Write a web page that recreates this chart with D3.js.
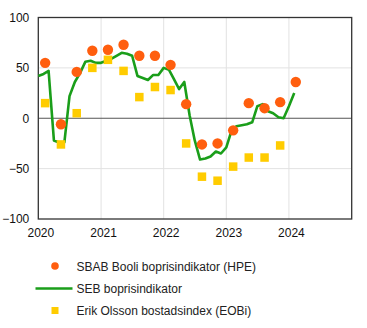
<!DOCTYPE html>
<html>
<head>
<meta charset="utf-8">
<script src="https://cdn.jsdelivr.net/npm/d3@7"></script>
<style>
  html, body { margin: 0; padding: 0; background: #fff; }
  svg { display: block; font-family: "Liberation Sans", Arial, sans-serif; }
</style>
</head>
<body>
<svg id="chart" width="367" height="328"></svg>
<script>
// ---- data ----
const quarterDates = ["2020-02-10","2020-05-12","2020-08-12","2020-11-11",
  "2021-02-10","2021-05-12","2021-08-12","2021-11-11",
  "2022-02-10","2022-05-12","2022-08-12","2022-11-11",
  "2023-02-10","2023-05-12","2023-08-12","2023-11-11",
  "2024-02-10"];
const sbabValues = [55, -6, 46, 67, 68, 73, 62, 62, 53, 14, -26, -25, -12, 15, 10, 16, 36];
const eobiValues = [15, -26, 5, 50, 58, 47, 21, 31, 28, -25, -58, -62, -48, -39, -39, -27];
const sebStart = "2020-01-01";
const sebValues = [42, 44, 47, -22, -24, -24, 22, 36, 45, 56, 57, 55,
  55, 57, 59, 62, 65, 64, 62, 42, 40, 38, 43, 43,
  50, 48, 39, 29, 36, 3, -22, -41, -40, -38, -33, -35,
  -29, -12, -8, -7, -6, -4, 12, 14, 7, 5, 1, 0,
  12, 25];
const yTicks = [100, 50, 0, -50, -100];
const xTickYears = [2020, 2021, 2022, 2023, 2024];
const legendLabels = ["SBAB Booli boprisindikator (HPE)", "SEB boprisindikator", "Erik Olsson bostadsindex (EOBi)"];

// ---- layout ----
const svg = d3.select("#chart");
const m = { left: 38.3, right: 351.7, top: 17.5, bottom: 219 };
const parse = d3.timeParse("%Y-%m-%d");
const x = d3.scaleTime().domain([new Date(2020,0,1), new Date(2025,0,1)]).range([m.left, m.right]);
const y = d3.scaleLinear().domain([-100, 100]).range([m.bottom, m.top]);

const orange = "#FF5E0E", green = "#1A9E1A", yellow = "#FFCC00";

// grid
const g = svg.append("g");
g.selectAll("line.hg").data(yTicks.filter(v => v !== 0 && Math.abs(v) !== 100)).enter().append("line")
  .attr("x1", m.left).attr("x2", m.right).attr("y1", d => y(d)).attr("y2", d => y(d))
  .attr("stroke", "#e2e2e2").attr("stroke-width", 1);
g.selectAll("line.vg").data(xTickYears.slice(1)).enter().append("line")
  .attr("x1", d => x(new Date(d,0,1))).attr("x2", d => x(new Date(d,0,1)))
  .attr("y1", m.top).attr("y2", m.bottom)
  .attr("stroke", "#e2e2e2").attr("stroke-width", 1);

// zero line
g.append("line").attr("x1", m.left).attr("x2", m.right).attr("y1", y(0)).attr("y2", y(0))
  .attr("stroke", "#555").attr("stroke-width", 1.2);

// axes labels
const yAxis = d3.axisLeft(y).tickValues(yTicks).tickSize(0).tickPadding(9);
const ya = svg.append("g").attr("transform", `translate(${m.left},0)`).call(yAxis);
ya.select(".domain").remove();
ya.selectAll("text").attr("font-size", 12).attr("fill", "#111")
  .attr("font-family", "Liberation Sans, Arial, sans-serif");

const xAxis = d3.axisBottom(x).tickValues(xTickYears.map(v => new Date(v,0,1)))
  .tickFormat(d3.timeFormat("%Y")).tickSize(0).tickPadding(9);
const xa = svg.append("g").attr("transform", `translate(2,${m.bottom})`).call(xAxis);
xa.select(".domain").remove();
xa.selectAll("text").attr("font-size", 12).attr("fill", "#111")
  .attr("font-family", "Liberation Sans, Arial, sans-serif");

// frame
svg.append("rect").attr("x", m.left).attr("y", m.top)
  .attr("width", m.right - m.left).attr("height", m.bottom - m.top)
  .attr("fill", "none").attr("stroke", "#333").attr("stroke-width", 1.3);

// SEB line
const s0 = parse(sebStart);
const sebData = sebValues.map((v, i) => ({ d: d3.timeMonth.offset(s0, i), v }));
svg.append("path").datum(sebData)
  .attr("d", d3.line().x(d => x(d.d)).y(d => y(d.v)))
  .attr("fill", "none").attr("stroke", green).attr("stroke-width", 2.6)
  .attr("stroke-linejoin", "round");

// EOBi squares
const sq = 8.5;
svg.selectAll("rect.eobi").data(eobiValues.map((v, i) => ({ d: parse(quarterDates[i]), v })))
  .enter().append("rect")
  .attr("x", d => x(d.d) - sq / 2).attr("y", d => y(d.v) - sq / 2)
  .attr("width", sq).attr("height", sq).attr("fill", yellow);

// SBAB circles
svg.selectAll("circle.sbab").data(sbabValues.map((v, i) => ({ d: parse(quarterDates[i]), v })))
  .enter().append("circle")
  .attr("cx", d => x(d.d)).attr("cy", d => y(d.v)).attr("r", 5.2).attr("fill", orange);

// legend
const lg = svg.append("g");
const ly = [266, 288.5, 310.5];
lg.append("circle").attr("cx", 55).attr("cy", ly[0]).attr("r", 3.8).attr("fill", orange);
lg.append("line").attr("x1", 35.5).attr("x2", 72.5).attr("y1", ly[1]).attr("y2", ly[1])
  .attr("stroke", green).attr("stroke-width", 2.6);
lg.append("rect").attr("x", 51.5).attr("y", ly[2] - 3.5).attr("width", 7).attr("height", 7).attr("fill", yellow);
lg.selectAll("text").data(legendLabels).enter().append("text")
  .attr("x", 76.5).attr("y", (d, i) => ly[i] + 4.5)
  .attr("font-size", 12).attr("fill", "#222").text(d => d);
</script>
</body>
</html>
